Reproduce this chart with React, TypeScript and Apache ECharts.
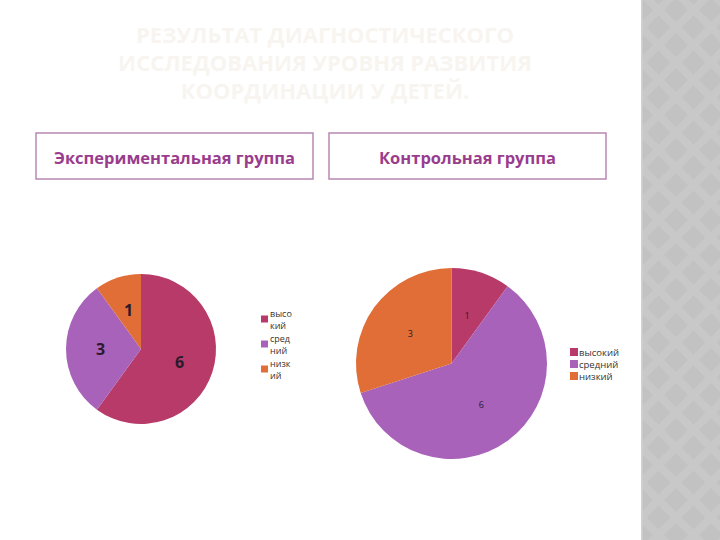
import React, { useEffect, useRef } from "react";
import * as echarts from "echarts";

const categories = ["высокий", "средний", "низкий"];
const wrappedNames = ["высо\nкий", "сред\nний", "низк\nий"];
const experimentalValues = [6, 3, 1];
const controlValues = [1, 6, 3];
const groupTitles = ["Экспериментальная группа", "Контрольная группа"];
const titleLines = [
  "РЕЗУЛЬТАТ ДИАГНОСТИЧЕСКОГО",
  "ИССЛЕДОВАНИЯ УРОВНЯ РАЗВИТИЯ",
  "КООРДИНАЦИИ У ДЕТЕЙ.",
];
const colors = ["#b73a69", "#a862ba", "#e06e36"];

export default function App() {
  const ref = useRef<HTMLDivElement>(null);
  useEffect(() => {
    if (!ref.current) return;
    const chart = echarts.init(ref.current, undefined, { renderer: "svg" });

    const stripe: any[] = [
      { type: "rect", shape: { x: 641, y: 0, width: 79, height: 540 }, style: { fill: "#c8c8c8" } },
    ];
    for (let row = -1; row < 33; row++) {
      for (let col = 0; col < 4; col++) {
        const cx = 641 + col * 35 + (row % 2 === 0 ? 0 : 17.5);
        const cy = row * 17.5 + 10;
        stripe.push({
          type: "polygon",
          shape: { points: [[cx, cy - 12], [cx + 12, cy], [cx, cy + 12], [cx - 12, cy]] },
          style: { fill: "#c2c2c2" },
        });
      }
    }
    stripe.push({ type: "rect", shape: { x: 600, y: 0, width: 41, height: 540 }, style: { fill: "#ffffff" } });
    stripe.push({ type: "rect", shape: { x: 641, y: 0, width: 1.5, height: 540 }, style: { fill: "#d2d2d2" } });

    const titleTexts = titleLines.map((t, i) => ({
      type: "text",
      x: 325,
      y: [34, 62, 90][i],
      style: {
        text: t,
        align: "center",
        verticalAlign: "middle",
        font: "bold 22px 'Open Sans', sans-serif",
        fill: "#f8f5f0",
      },
    }));

    const boxes = groupTitles.flatMap((t, i) => {
      const x = i === 0 ? 36 : 329;
      return [
        {
          type: "rect",
          shape: { x, y: 133, width: 277, height: 46 },
          style: { fill: "#ffffff", stroke: "#b889b3", lineWidth: 1.5 },
        },
        {
          type: "text",
          x: x + 138.5,
          y: 157,
          style: {
            text: t,
            align: "center",
            verticalAlign: "middle",
            font: "bold 16.5px 'Open Sans', sans-serif",
            fill: "#9a3c8d",
          },
        },
      ];
    });

    chart.setOption({
      animation: false,
      color: colors,
      graphic: [...stripe, ...titleTexts, ...boxes],
      legend: [
        {
          seriesIndex: 0,
          data: categories,
          orient: "vertical",
          left: 261,
          top: 307,
          padding: 0,
          itemWidth: 7,
          itemHeight: 7,
          itemGap: 1,
          icon: "rect",
          formatter: (name: string) => wrappedNames[categories.indexOf(name)],
          textStyle: { fontSize: 9, lineHeight: 12, color: "#333", fontFamily: "'Open Sans', sans-serif", padding: [0, 0, 0, -3] },
        },
        {
          seriesIndex: 1,
          data: categories,
          orient: "vertical",
          left: 570,
          top: 346,
          padding: 0,
          itemWidth: 8,
          itemHeight: 8,
          itemGap: 0,
          icon: "rect",
          textStyle: { fontSize: 9.5, lineHeight: 12, color: "#333", fontFamily: "'Open Sans', sans-serif", padding: [0, 0, 0, -4] },
        },
      ],
      series: [
        {
          type: "pie",
          center: [141, 349],
          radius: 75,
          startAngle: 90,
          data: categories.map((c, i) => ({ name: c, value: experimentalValues[i] })),
          label: {
            show: true,
            position: "inside",
            formatter: "{c}",
            fontSize: 16,
            fontWeight: "bold",
            color: "#2a1a2c",
            fontFamily: "'Open Sans', sans-serif",
          },
          labelLine: { show: false },
          emphasis: { disabled: true },
        },
        {
          type: "pie",
          center: [451.5, 363.5],
          radius: 95.5,
          startAngle: 90,
          data: categories.map((c, i) => ({ name: c, value: controlValues[i] })),
          label: {
            show: true,
            position: "inside",
            formatter: "{c}",
            fontSize: 9,
            color: "#2a1a2c",
            fontFamily: "'Open Sans', sans-serif",
          },
          labelLine: { show: false },
          emphasis: { disabled: true },
        },
      ],
    });
    return () => chart.dispose();
  }, []);
  return (
    <div
      ref={ref}
      style={{ position: "fixed", left: 0, top: 0, width: 720, height: 540, background: "#ffffff" }}
    />
  );
}
